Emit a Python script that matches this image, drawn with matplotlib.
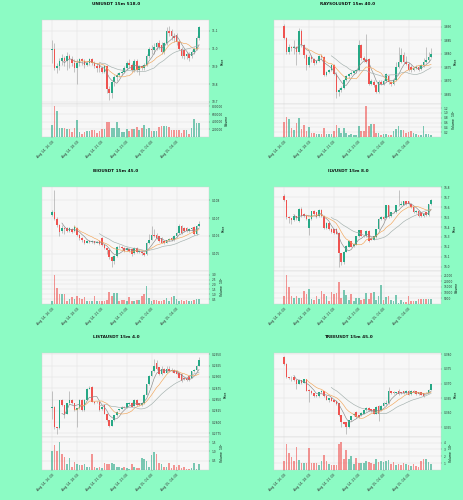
import numpy as np
import pandas as pd
import matplotlib
matplotlib.use("Agg")
import matplotlib.pyplot as plt
from matplotlib.ticker import MultipleLocator, ScalarFormatter

# figure / style
W, H = 464, 500
BG = "#8cfbc4"
AX_BG = "#f7f7f7"
GRID = "#dedede"
UP = "#26a885"
DOWN = "#ef5350"
WICK = "#9a9a9a"
MAVS = [(5, "#8a8a8a"), (10, "#f2a65a"), (20, "#a3b0ad")]
ROW_OFF = [0, 167, 333]

# shared x axis (15m candles)
tick_pos = [0, 10, 20, 30, 40, 50]
tick_labels = ["Aug 14, 16:00", "Aug 14, 18:30", "Aug 14, 21:00",
               "Aug 14, 23:30", "Aug 15, 02:00", "Aug 15, 04:30"]

# ---- UNIUSDT
uni_open = [10.99, 11.00, 10.89, 10.90, 10.93, 10.95, 10.93, 10.96, 10.94, 10.92,
            10.89, 10.92, 10.94, 10.93, 10.91, 10.92, 10.94, 10.92, 10.90, 10.91,
            10.89, 10.87, 10.90, 10.77, 10.75, 10.81, 10.84, 10.85, 10.86, 10.87,
            10.89, 10.92, 10.91, 10.88, 10.93, 10.88, 10.90, 10.89, 10.91, 10.96,
            11.00, 10.99, 11.01, 11.03, 11.02, 10.98, 11.03, 11.10, 11.10, 11.07,
            11.08, 11.04, 11.00, 10.99, 10.96, 10.97, 10.96, 10.98, 11.00, 11.06]
uni_close = [11.00, 10.89, 10.90, 10.93, 10.95, 10.93, 10.96, 10.94, 10.92, 10.89,
             10.92, 10.94, 10.93, 10.91, 10.92, 10.94, 10.92, 10.90, 10.89, 10.89,
             10.87, 10.90, 10.77, 10.75, 10.81, 10.84, 10.85, 10.86, 10.87, 10.89,
             10.92, 10.91, 10.88, 10.93, 10.88, 10.90, 10.89, 10.91, 10.96, 11.00,
             10.99, 11.01, 11.03, 11.01, 10.98, 11.03, 11.10, 11.09, 11.07, 11.06,
             11.04, 11.00, 10.96, 10.96, 10.97, 10.95, 10.98, 11.00, 11.06, 11.12]
uni_high = [11.05, 11.03, 10.92, 10.95, 10.97, 10.96, 10.98, 10.97, 10.96, 10.94,
            10.94, 10.95, 10.95, 10.94, 10.93, 10.95, 10.95, 10.93, 10.92, 10.92,
            10.90, 10.91, 10.91, 10.79, 10.82, 10.85, 10.86, 10.87, 10.88, 10.90,
            10.93, 10.94, 10.92, 10.94, 10.94, 10.91, 10.91, 10.92, 10.97, 11.01,
            11.02, 11.03, 11.04, 11.05, 11.04, 11.04, 11.12, 11.13, 11.11, 11.09,
            11.09, 11.05, 11.01, 11.00, 10.98, 10.98, 10.99, 11.01, 11.07, 11.13]
uni_low = [10.92, 10.88, 10.86, 10.88, 10.91, 10.90, 10.88, 10.89, 10.90, 10.87,
           10.80, 10.90, 10.91, 10.89, 10.90, 10.91, 10.91, 10.89, 10.87, 10.87,
           10.86, 10.86, 10.75, 10.71, 10.72, 10.79, 10.82, 10.84, 10.85, 10.86,
           10.88, 10.89, 10.87, 10.87, 10.87, 10.85, 10.88, 10.88, 10.90, 10.95,
           10.97, 10.97, 10.99, 11.00, 10.97, 10.97, 11.02, 11.07, 11.05, 11.04,
           11.02, 10.99, 10.95, 10.94, 10.94, 10.93, 10.95, 10.97, 10.99, 11.05]
uni_vol = [315000, 808000, 681000, 247000, 247000, 247000, 221000, 221000, 136000, 238000,
           451000, 136000, 68000, 136000, 153000, 153000, 179000, 179000, 111000, 153000,
           221000, 221000, 400000, 400000, 247000, 247000, 383000, 247000, 119000, 136000,
           213000, 153000, 221000, 221000, 264000, 179000, 247000, 306000, 221000, 247000,
           153000, 153000, 153000, 264000, 281000, 281000, 281000, 264000, 179000, 179000,
           196000, 179000, 111000, 196000, 179000, 68000, 238000, 477000, 357000, 366000]

# ---- RAYSOLUSDT
ray_open = [3.8902, 3.8857, 3.8807, 3.8826, 3.8820, 3.8826, 3.8805, 3.8884, 3.8832, 3.8795,
            3.8758, 3.8789, 3.8779, 3.8767, 3.8773, 3.8791, 3.8789, 3.8721, 3.8733, 3.8739,
            3.8758, 3.8727, 3.8658, 3.8666, 3.8672, 3.8702, 3.8717, 3.8725, 3.8730, 3.8736,
            3.8739, 3.8832, 3.8783, 3.8777, 3.8780, 3.8690, 3.8696, 3.8684, 3.8659, 3.8696,
            3.8690, 3.8700, 3.8717, 3.8696, 3.8690, 3.8702, 3.8752, 3.8770, 3.8795, 3.8770,
            3.8764, 3.8752, 3.8739, 3.8746, 3.8752, 3.8745, 3.8758, 3.8770, 3.8777, 3.8789]
ray_close = [3.8857, 3.8807, 3.8826, 3.8820, 3.8826, 3.8805, 3.8884, 3.8832, 3.8795, 3.8758,
             3.8789, 3.8779, 3.8767, 3.8773, 3.8791, 3.8789, 3.8721, 3.8733, 3.8739, 3.8758,
             3.8727, 3.8658, 3.8666, 3.8672, 3.8702, 3.8717, 3.8725, 3.8730, 3.8736, 3.8739,
             3.8832, 3.8783, 3.8777, 3.8770, 3.8690, 3.8700, 3.8684, 3.8659, 3.8696, 3.8690,
             3.8700, 3.8725, 3.8696, 3.8690, 3.8702, 3.8752, 3.8770, 3.8795, 3.8770, 3.8764,
             3.8739, 3.8739, 3.8746, 3.8752, 3.8739, 3.8758, 3.8770, 3.8777, 3.8789, 3.8799]
ray_high = [3.8909, 3.8862, 3.8835, 3.8830, 3.8850, 3.8830, 3.8894, 3.8890, 3.8838, 3.8800,
            3.8795, 3.8795, 3.8783, 3.8778, 3.8796, 3.8798, 3.8792, 3.8737, 3.8744, 3.8763,
            3.8762, 3.8732, 3.8672, 3.8680, 3.8708, 3.8722, 3.8730, 3.8735, 3.8740, 3.8745,
            3.8851, 3.8838, 3.8790, 3.8875, 3.8785, 3.8705, 3.8702, 3.8690, 3.8702, 3.8702,
            3.8705, 3.8730, 3.8722, 3.8700, 3.8708, 3.8770, 3.8826, 3.8820, 3.8805, 3.8790,
            3.8770, 3.8758, 3.8752, 3.8758, 3.8758, 3.8764, 3.8785, 3.8826, 3.8805, 3.8820]
ray_low = [3.8853, 3.8800, 3.8800, 3.8810, 3.8800, 3.8760, 3.8800, 3.8825, 3.8785, 3.8739,
           3.8752, 3.8770, 3.8760, 3.8762, 3.8768, 3.8782, 3.8716, 3.8716, 3.8728, 3.8735,
           3.8722, 3.8635, 3.8645, 3.8660, 3.8668, 3.8698, 3.8712, 3.8720, 3.8725, 3.8730,
           3.8735, 3.8778, 3.8770, 3.8765, 3.8684, 3.8684, 3.8678, 3.8655, 3.8655, 3.8685,
           3.8685, 3.8695, 3.8690, 3.8680, 3.8685, 3.8698, 3.8748, 3.8765, 3.8765, 3.8758,
           3.8735, 3.8733, 3.8735, 3.8742, 3.8735, 3.8740, 3.8752, 3.8765, 3.8770, 3.8785]
ray_vol = [0.63, 0.83, 0.74, 0.38, 0.31, 0.60, 0.79, 0.35, 0.51, 0.25,
           0.42, 0.18, 0.18, 0.11, 0.11, 0.11, 0.38, 0.14, 0.14, 0.11,
           0.25, 0.49, 0.39, 0.18, 0.39, 0.18, 0.10, 0.11, 0.07, 0.10,
           0.44, 0.25, 0.25, 1.28, 0.44, 0.53, 0.53, 0.18, 0.18, 0.10,
           0.14, 0.11, 0.07, 0.10, 0.25, 0.35, 0.44, 0.28, 0.28, 0.18,
           0.21, 0.24, 0.18, 0.11, 0.10, 0.10, 0.46, 0.11, 0.11, 0.10]

# ---- BIOUSDT
bio_open = [0.10717, 0.10737, 0.10698, 0.10660, 0.10627, 0.10646, 0.10646, 0.10627, 0.10637, 0.10627,
            0.10646, 0.10608, 0.10588, 0.10575, 0.10563, 0.10569, 0.10565, 0.10569, 0.10563, 0.10569,
            0.10588, 0.10550, 0.10531, 0.10521, 0.10483, 0.10458, 0.10487, 0.10540, 0.10536, 0.10531,
            0.10521, 0.10525, 0.10525, 0.10506, 0.10531, 0.10512, 0.10512, 0.10506, 0.10498, 0.10560,
            0.10579, 0.10608, 0.10608, 0.10598, 0.10588, 0.10569, 0.10563, 0.10575, 0.10588, 0.10575,
            0.10598, 0.10617, 0.10656, 0.10646, 0.10646, 0.10627, 0.10637, 0.10650, 0.10612, 0.10656]
bio_close = [0.10737, 0.10698, 0.10660, 0.10621, 0.10646, 0.10637, 0.10627, 0.10646, 0.10621, 0.10650,
             0.10608, 0.10588, 0.10575, 0.10563, 0.10569, 0.10565, 0.10569, 0.10563, 0.10565, 0.10556,
             0.10550, 0.10531, 0.10521, 0.10483, 0.10458, 0.10487, 0.10540, 0.10536, 0.10531, 0.10515,
             0.10531, 0.10518, 0.10498, 0.10531, 0.10512, 0.10518, 0.10502, 0.10492, 0.10560, 0.10579,
             0.10608, 0.10598, 0.10588, 0.10569, 0.10563, 0.10563, 0.10575, 0.10583, 0.10575, 0.10598,
             0.10617, 0.10656, 0.10617, 0.10627, 0.10627, 0.10637, 0.10646, 0.10612, 0.10656, 0.10665]
bio_high = [0.10745, 0.10858, 0.10705, 0.10665, 0.10660, 0.10650, 0.10650, 0.10652, 0.10642, 0.10660,
            0.10650, 0.10612, 0.10592, 0.10580, 0.10575, 0.10575, 0.10575, 0.10572, 0.10570, 0.10575,
            0.10592, 0.10555, 0.10535, 0.10525, 0.10490, 0.10492, 0.10545, 0.10548, 0.10545, 0.10540,
            0.10536, 0.10530, 0.10530, 0.10536, 0.10536, 0.10522, 0.10515, 0.10510, 0.10565, 0.10610,
            0.10656, 0.10640, 0.10615, 0.10602, 0.10592, 0.10572, 0.10580, 0.10590, 0.10592, 0.10605,
            0.10625, 0.10665, 0.10660, 0.10652, 0.10650, 0.10645, 0.10652, 0.10656, 0.10660, 0.10685]
bio_low = [0.10710, 0.10690, 0.10650, 0.10600, 0.10615, 0.10610, 0.10620, 0.10620, 0.10615, 0.10622,
           0.10600, 0.10580, 0.10568, 0.10556, 0.10560, 0.10560, 0.10560, 0.10556, 0.10558, 0.10550,
           0.10545, 0.10525, 0.10500, 0.10470, 0.10425, 0.10445, 0.10480, 0.10530, 0.10525, 0.10510,
           0.10515, 0.10510, 0.10490, 0.10500, 0.10506, 0.10506, 0.10495, 0.10487, 0.10492, 0.10555,
           0.10575, 0.10592, 0.10582, 0.10565, 0.10558, 0.10556, 0.10558, 0.10570, 0.10570, 0.10570,
           0.10592, 0.10612, 0.10610, 0.10620, 0.10620, 0.10620, 0.10630, 0.10605, 0.10608, 0.10650]
bio_vol = [0.27, 3.0, 1.6, 1.0, 1.0, 1.0, 0.33, 0.53, 0.67, 0.53,
           0.83, 0.6, 0.53, 0.67, 0.33, 0.33, 0.33, 0.87, 0.27, 0.33,
           0.27, 0.27, 0.43, 1.2, 0.87, 1.17, 1.17, 0.27, 0.37, 0.43,
           0.33, 0.67, 0.27, 0.27, 0.37, 0.43, 0.77, 1.03, 1.87, 0.57,
           0.33, 0.37, 0.37, 0.33, 0.27, 0.43, 0.6, 0.27, 0.67, 0.83,
           0.53, 0.27, 0.43, 0.27, 0.43, 0.27, 0.33, 0.43, 0.5, 0.5]

# ---- ILVUSDT
ilv_open = [16.710, 16.669, 16.497, 16.486, 16.472, 16.507, 16.462, 16.583, 16.531, 16.514,
            16.393, 16.479, 16.559, 16.548, 16.514, 16.576, 16.514, 16.393, 16.445, 16.383,
            16.376, 16.383, 16.341, 16.134, 16.048, 16.152, 16.203, 16.255, 16.210, 16.221,
            16.307, 16.366, 16.314, 16.307, 16.359, 16.290, 16.272, 16.300, 16.376, 16.479,
            16.497, 16.490, 16.617, 16.514, 16.548, 16.548, 16.617, 16.624, 16.624, 16.659,
            16.659, 16.634, 16.600, 16.548, 16.566, 16.548, 16.514, 16.548, 16.524, 16.628]
ilv_close = [16.669, 16.497, 16.486, 16.472, 16.507, 16.486, 16.583, 16.514, 16.514, 16.479,
             16.479, 16.559, 16.531, 16.497, 16.576, 16.514, 16.393, 16.445, 16.376, 16.348,
             16.341, 16.334, 16.134, 16.048, 16.152, 16.210, 16.255, 16.203, 16.231, 16.307,
             16.366, 16.314, 16.307, 16.359, 16.255, 16.272, 16.307, 16.376, 16.479, 16.497,
             16.479, 16.617, 16.497, 16.548, 16.555, 16.617, 16.624, 16.634, 16.659, 16.634,
             16.634, 16.600, 16.548, 16.566, 16.514, 16.514, 16.531, 16.524, 16.628, 16.676]
ilv_high = [16.728, 16.676, 16.510, 16.495, 16.520, 16.515, 16.590, 16.600, 16.540, 16.520,
            16.490, 16.566, 16.570, 16.555, 16.585, 16.583, 16.520, 16.455, 16.450, 16.390,
            16.383, 16.390, 16.348, 16.140, 16.160, 16.220, 16.265, 16.262, 16.240, 16.314,
            16.372, 16.372, 16.324, 16.366, 16.366, 16.300, 16.314, 16.383, 16.490, 16.510,
            16.514, 16.625, 16.625, 16.555, 16.566, 16.624, 16.772, 16.660, 16.665, 16.665,
            16.665, 16.640, 16.607, 16.575, 16.575, 16.555, 16.540, 16.555, 16.634, 16.686]
ilv_low = [16.660, 16.480, 16.440, 16.430, 16.460, 16.470, 16.455, 16.505, 16.505, 16.470,
           16.324, 16.470, 16.520, 16.490, 16.505, 16.505, 16.383, 16.385, 16.366, 16.340,
           16.334, 16.325, 15.997, 16.020, 16.030, 16.145, 16.195, 16.195, 16.200, 16.215,
           16.300, 16.305, 16.300, 16.300, 16.245, 16.265, 16.265, 16.290, 16.370, 16.470,
           16.470, 16.480, 16.490, 16.505, 16.540, 16.540, 16.610, 16.617, 16.617, 16.625,
           16.625, 16.590, 16.540, 16.540, 16.505, 16.505, 16.505, 16.515, 16.515, 16.620]
ilv_vol = [7100, 25700, 15100, 7400, 5700, 7100, 5700, 5100, 11700, 8600,
           12900, 4600, 3700, 7400, 4600, 11700, 8600, 7400, 2300, 10300,
           8600, 9400, 19400, 5100, 12300, 8000, 3100, 8600, 2300, 5700,
           5700, 3700, 4600, 9400, 4300, 9400, 10900, 3100, 7400, 16600,
           3100, 6000, 7400, 3100, 2300, 8000, 900, 3100, 1700, 1700,
           6600, 2300, 2900, 2900, 4300, 4300, 4300, 4300, 4300, 4300]

# ---- LISTAUSDT
lista_open = [0.28318, 0.28341, 0.27886, 0.27864, 0.28492, 0.28379, 0.28189, 0.28417, 0.28492, 0.28417,
              0.28265, 0.28303, 0.28492, 0.28265, 0.28492, 0.28742, 0.28773, 0.28455, 0.28439, 0.28439,
              0.28288, 0.28379, 0.28189, 0.28038, 0.27924, 0.28038, 0.28152, 0.28265, 0.28288, 0.28341,
              0.28318, 0.28394, 0.28432, 0.28364, 0.28492, 0.28417, 0.28379, 0.28417, 0.28606, 0.28833,
              0.29023, 0.29136, 0.29303, 0.29212, 0.29061, 0.29174, 0.29098, 0.29174, 0.29152, 0.29152,
              0.29136, 0.29098, 0.29076, 0.28985, 0.28985, 0.29023, 0.28985, 0.29121, 0.29152, 0.29250]
lista_close = [0.28341, 0.27886, 0.27864, 0.28492, 0.28379, 0.28189, 0.28417, 0.28492, 0.28417, 0.28265,
               0.28303, 0.28492, 0.28265, 0.28492, 0.28742, 0.28758, 0.28455, 0.28417, 0.28455, 0.28265,
               0.28341, 0.28189, 0.28038, 0.27924, 0.28038, 0.28152, 0.28227, 0.28280, 0.28341, 0.28318,
               0.28417, 0.28432, 0.28341, 0.28492, 0.28379, 0.28379, 0.28417, 0.28606, 0.28833, 0.29023,
               0.29136, 0.29250, 0.29174, 0.29061, 0.29174, 0.29098, 0.29174, 0.29136, 0.29136, 0.29098,
               0.29076, 0.28985, 0.28909, 0.28947, 0.28924, 0.28924, 0.29121, 0.29152, 0.29250, 0.29379]
lista_high = [0.28682, 0.28355, 0.27900, 0.28500, 0.28520, 0.28390, 0.28430, 0.28682, 0.28510, 0.28430,
              0.28320, 0.28510, 0.28505, 0.28505, 0.28760, 0.28790, 0.28790, 0.28470, 0.28470, 0.28450,
              0.28355, 0.28390, 0.28200, 0.28050, 0.28050, 0.28165, 0.28240, 0.28295, 0.28355, 0.28355,
              0.28430, 0.28445, 0.28445, 0.28505, 0.28505, 0.28430, 0.28430, 0.28620, 0.28850, 0.29040,
              0.29150, 0.29402, 0.29379, 0.29225, 0.29250, 0.29200, 0.29250, 0.29250, 0.29190, 0.29165,
              0.29150, 0.29110, 0.29090, 0.29000, 0.29000, 0.29040, 0.29136, 0.29170, 0.29265, 0.29440]
lista_low = [0.28076, 0.27850, 0.27735, 0.27850, 0.28360, 0.28100, 0.28170, 0.28400, 0.28400, 0.28250,
             0.27886, 0.28290, 0.28250, 0.28250, 0.28480, 0.28730, 0.28440, 0.28400, 0.28420, 0.28250,
             0.28270, 0.28170, 0.28020, 0.27900, 0.27910, 0.28030, 0.28140, 0.28250, 0.28280, 0.28305,
             0.28305, 0.28380, 0.28330, 0.28355, 0.28365, 0.28365, 0.28365, 0.28400, 0.28590, 0.28820,
             0.29010, 0.29120, 0.29160, 0.29040, 0.29050, 0.29080, 0.29085, 0.29120, 0.29120, 0.29080,
             0.29060, 0.28970, 0.28890, 0.28930, 0.28910, 0.28910, 0.28970, 0.29110, 0.29140, 0.29240]
lista_vol = [1.0, 1.37, 1.0, 1.53, 0.87, 0.7, 0.3, 0.67, 0.17, 0.45,
             0.3, 0.25, 0.25, 0.3, 0.17, 0.17, 0.87, 0.17, 0.13, 0.17,
             0.13, 0.38, 0.33, 0.33, 0.38, 0.33, 0.17, 0.17, 0.13, 0.17,
             0.12, 0.08, 0.33, 0.17, 0.13, 0.13, 0.67, 0.57, 0.5, 0.17,
             0.8, 0.95, 0.88, 0.37, 0.33, 0.17, 0.17, 0.37, 0.12, 0.25,
             0.17, 0.25, 0.13, 0.17, 0.08, 0.08, 0.12, 0.37, 0.08, 0.3]

# ---- TREEUSDT
tree_open = [0.37906, 0.37671, 0.37225, 0.37202, 0.37225, 0.37108, 0.36990, 0.37108, 0.37026, 0.37143,
             0.36791, 0.36756, 0.36673, 0.36591, 0.36556, 0.36709, 0.36732, 0.36556, 0.36439, 0.36497,
             0.36439, 0.36403, 0.36321, 0.35910, 0.35676, 0.35676, 0.35500, 0.35734, 0.35910, 0.36028,
             0.35910, 0.35910, 0.35969, 0.36086, 0.36169, 0.36122, 0.36122, 0.35969, 0.36239, 0.36086,
             0.36239, 0.36286, 0.36321, 0.36732, 0.36709, 0.36673, 0.36756, 0.36709, 0.36732, 0.36673,
             0.36756, 0.36638, 0.36756, 0.36732, 0.36709, 0.36697, 0.36673, 0.36697, 0.36673, 0.36791]
tree_close = [0.37671, 0.37225, 0.37202, 0.37178, 0.37108, 0.36990, 0.37108, 0.37026, 0.37143, 0.36756,
              0.36732, 0.36673, 0.36556, 0.36556, 0.36709, 0.36756, 0.36556, 0.36439, 0.36497, 0.36403,
              0.36380, 0.36286, 0.35910, 0.35676, 0.35617, 0.35500, 0.35734, 0.35887, 0.35969, 0.35852,
              0.35852, 0.36004, 0.36086, 0.36169, 0.36086, 0.36051, 0.35969, 0.36204, 0.35969, 0.36239,
              0.36321, 0.36321, 0.36732, 0.36673, 0.36673, 0.36709, 0.36638, 0.36673, 0.36662, 0.36756,
              0.36615, 0.36756, 0.36709, 0.36638, 0.36638, 0.36615, 0.36579, 0.36709, 0.36791, 0.36967]
tree_high = [0.37930, 0.37690, 0.37240, 0.37250, 0.37240, 0.37120, 0.37150, 0.37130, 0.37160, 0.37160,
             0.36800, 0.36770, 0.36690, 0.36610, 0.36725, 0.36775, 0.36745, 0.36570, 0.36510, 0.36510,
             0.36450, 0.36415, 0.36335, 0.35930, 0.35690, 0.35690, 0.35750, 0.35900, 0.35990, 0.36040,
             0.35925, 0.36020, 0.36100, 0.36185, 0.36185, 0.36140, 0.36140, 0.36220, 0.36250, 0.36255,
             0.36380, 0.36420, 0.36873, 0.36760, 0.36750, 0.36725, 0.36800, 0.36725, 0.36750, 0.36770,
             0.36770, 0.36780, 0.36770, 0.36750, 0.36720, 0.36710, 0.36690, 0.36720, 0.36800, 0.36980]
tree_low = [0.37650, 0.37200, 0.37150, 0.37100, 0.37090, 0.36820, 0.36970, 0.37000, 0.37010, 0.36740,
            0.36380, 0.36650, 0.36530, 0.36530, 0.36540, 0.36690, 0.36540, 0.36420, 0.36380, 0.36390,
            0.36360, 0.36270, 0.35890, 0.35500, 0.35600, 0.35265, 0.35480, 0.35720, 0.35890, 0.35830,
            0.35830, 0.35890, 0.35950, 0.36070, 0.36070, 0.36030, 0.35950, 0.35950, 0.35700, 0.36070,
            0.36220, 0.36270, 0.36300, 0.36650, 0.36650, 0.36650, 0.36620, 0.36650, 0.36640, 0.36650,
            0.36600, 0.36620, 0.36690, 0.36620, 0.36620, 0.36600, 0.36530, 0.36680, 0.36660, 0.36780]
tree_vol = [1.36, 3.86, 2.5, 1.91, 1.27, 3.32, 1.5, 1.05, 1.05, 1.05,
            3.27, 1.05, 1.05, 1.05, 0.68, 1.36, 2.18, 1.27, 0.91, 0.68,
            0.68, 0.68, 3.77, 4.09, 1.68, 2.95, 1.68, 2.05, 0.91, 1.73,
            1.0, 1.0, 1.0, 1.27, 1.14, 1.0, 0.82, 1.55, 1.14, 1.27,
            1.23, 1.27, 1.45, 0.82, 1.14, 0.68, 0.91, 0.68, 1.05, 0.82,
            0.77, 0.59, 0.82, 0.59, 0.45, 1.27, 1.68, 1.68, 1.14, 0.91]


def add_px_axes(fig, x0, y0, x1, y1, **kw):
    return fig.add_axes([x0 / W, 1 - y1 / H, (x1 - x0) / W, (y1 - y0) / H], **kw)


def style_axis(ax):
    ax.set_facecolor(AX_BG)
    ax.grid(True, color=GRID, linewidth=0.3)
    ax.set_axisbelow(True)
    for s in ax.spines.values():
        s.set_color("#d4d4d4")
        s.set_linewidth(0.3)
    ax.yaxis.tick_right()
    ax.yaxis.set_label_position("right")
    ax.tick_params(labelsize=2.1, length=1.0, width=0.25, pad=1, colors="#333333")


def draw_chart(fig, col, row, title, o, h, l, c, v,
               price_lim, price_step, vol_top, vol_step, vol_label, plain_vol=False):
    o, h, l, c, v = map(np.asarray, (o, h, l, c, v))
    x = np.arange(len(c))
    xo, yo = col * 232, ROW_OFF[row]

    axp = add_px_axes(fig, 42 + xo, 20 + yo, 209 + xo, 103.5 + yo)
    axv = add_px_axes(fig, 42 + xo, 103.5 + yo, 209 + xo, 137 + yo, sharex=axp)
    for ax in (axp, axv):
        style_axis(ax)

    colors = np.where(c >= o, UP, DOWN)
    axp.vlines(x, l, h, color=WICK, linewidth=0.4, zorder=2)
    body = np.maximum(np.abs(c - o), (price_lim[1] - price_lim[0]) * 0.002)
    axp.bar(x, body, bottom=np.minimum(o, c), width=0.65, color=colors,
            linewidth=0, zorder=3)
    closes = pd.Series(c)
    for n, mc in MAVS:
        axp.plot(x, closes.rolling(n).mean(), color=mc, linewidth=0.45, zorder=4)

    axp.set_xlim(-4, 63)
    axp.set_ylim(*price_lim)
    axp.yaxis.set_major_locator(MultipleLocator(price_step))
    axp.yaxis.set_major_formatter(ScalarFormatter(useOffset=False))
    axp.set_ylabel("Price", fontsize=2.2, labelpad=1.5)
    axp.tick_params(labelbottom=False)

    axv.bar(x, v, width=0.65, color=colors, alpha=0.6, linewidth=0, zorder=3)
    axv.set_ylim(0, vol_top)
    axv.set_yticks(np.arange(vol_step, vol_top, vol_step))
    vfmt = ScalarFormatter(useOffset=False)
    if plain_vol:
        vfmt.set_scientific(False)
    axv.yaxis.set_major_formatter(vfmt)
    axv.set_ylabel(vol_label, fontsize=2.2, labelpad=1.5)
    axv.set_xticks(tick_pos)
    axv.set_xticklabels(tick_labels, rotation=45, ha="right",
                        rotation_mode="anchor", fontsize=2.3)

    fig.text((xo + 116) / W, 1 - (yo + 4) / H, title, ha="center", va="center",
             fontsize=3.1, fontweight="bold", color="#111111")


fig = plt.figure(figsize=(W / 100, H / 100), dpi=100, facecolor=BG)

draw_chart(fig, 0, 0, "UNIUSDT 15m 518.0", uni_open, uni_high, uni_low, uni_close, uni_vol,
           (10.69, 11.162), 0.1, 876600, 200000, "Volume", plain_vol=True)
draw_chart(fig, 1, 0, "RAYSOLUSDT 15m 40.0", ray_open, ray_high, ray_low, ray_close, ray_vol,
           (3.8616, 3.8925), 0.005, 1.39, 0.2, "Volume  $10^{6}$")
draw_chart(fig, 0, 1, "BIOUSDT 15m 45.0", bio_open, bio_high, bio_low, bio_close, bio_vol,
           (0.10406, 0.10875), 0.001, 3.43, 0.5, "Volume  $10^{6}$")
draw_chart(fig, 1, 1, "ILVUSDT 15m 8.0", ilv_open, ilv_high, ilv_low, ilv_close, ilv_vol,
           (15.962, 16.803), 0.1, 29400, 5000, "Volume", plain_vol=True)
draw_chart(fig, 0, 2, "LISTAUSDT 15m 4.0", lista_open, lista_high, lista_low, lista_close, lista_vol,
           (0.27682, 0.2953), 0.0025, 1.8, 0.5, "Volume  $10^{6}$")
draw_chart(fig, 1, 2, "TREEUSDT 15m 45.0", tree_open, tree_high, tree_low, tree_close, tree_vol,
           (0.35182, 0.38047), 0.005, 4.9, 1, "Volume  $10^{6}$")

fig.savefig("out.png", dpi=100, facecolor=BG)
